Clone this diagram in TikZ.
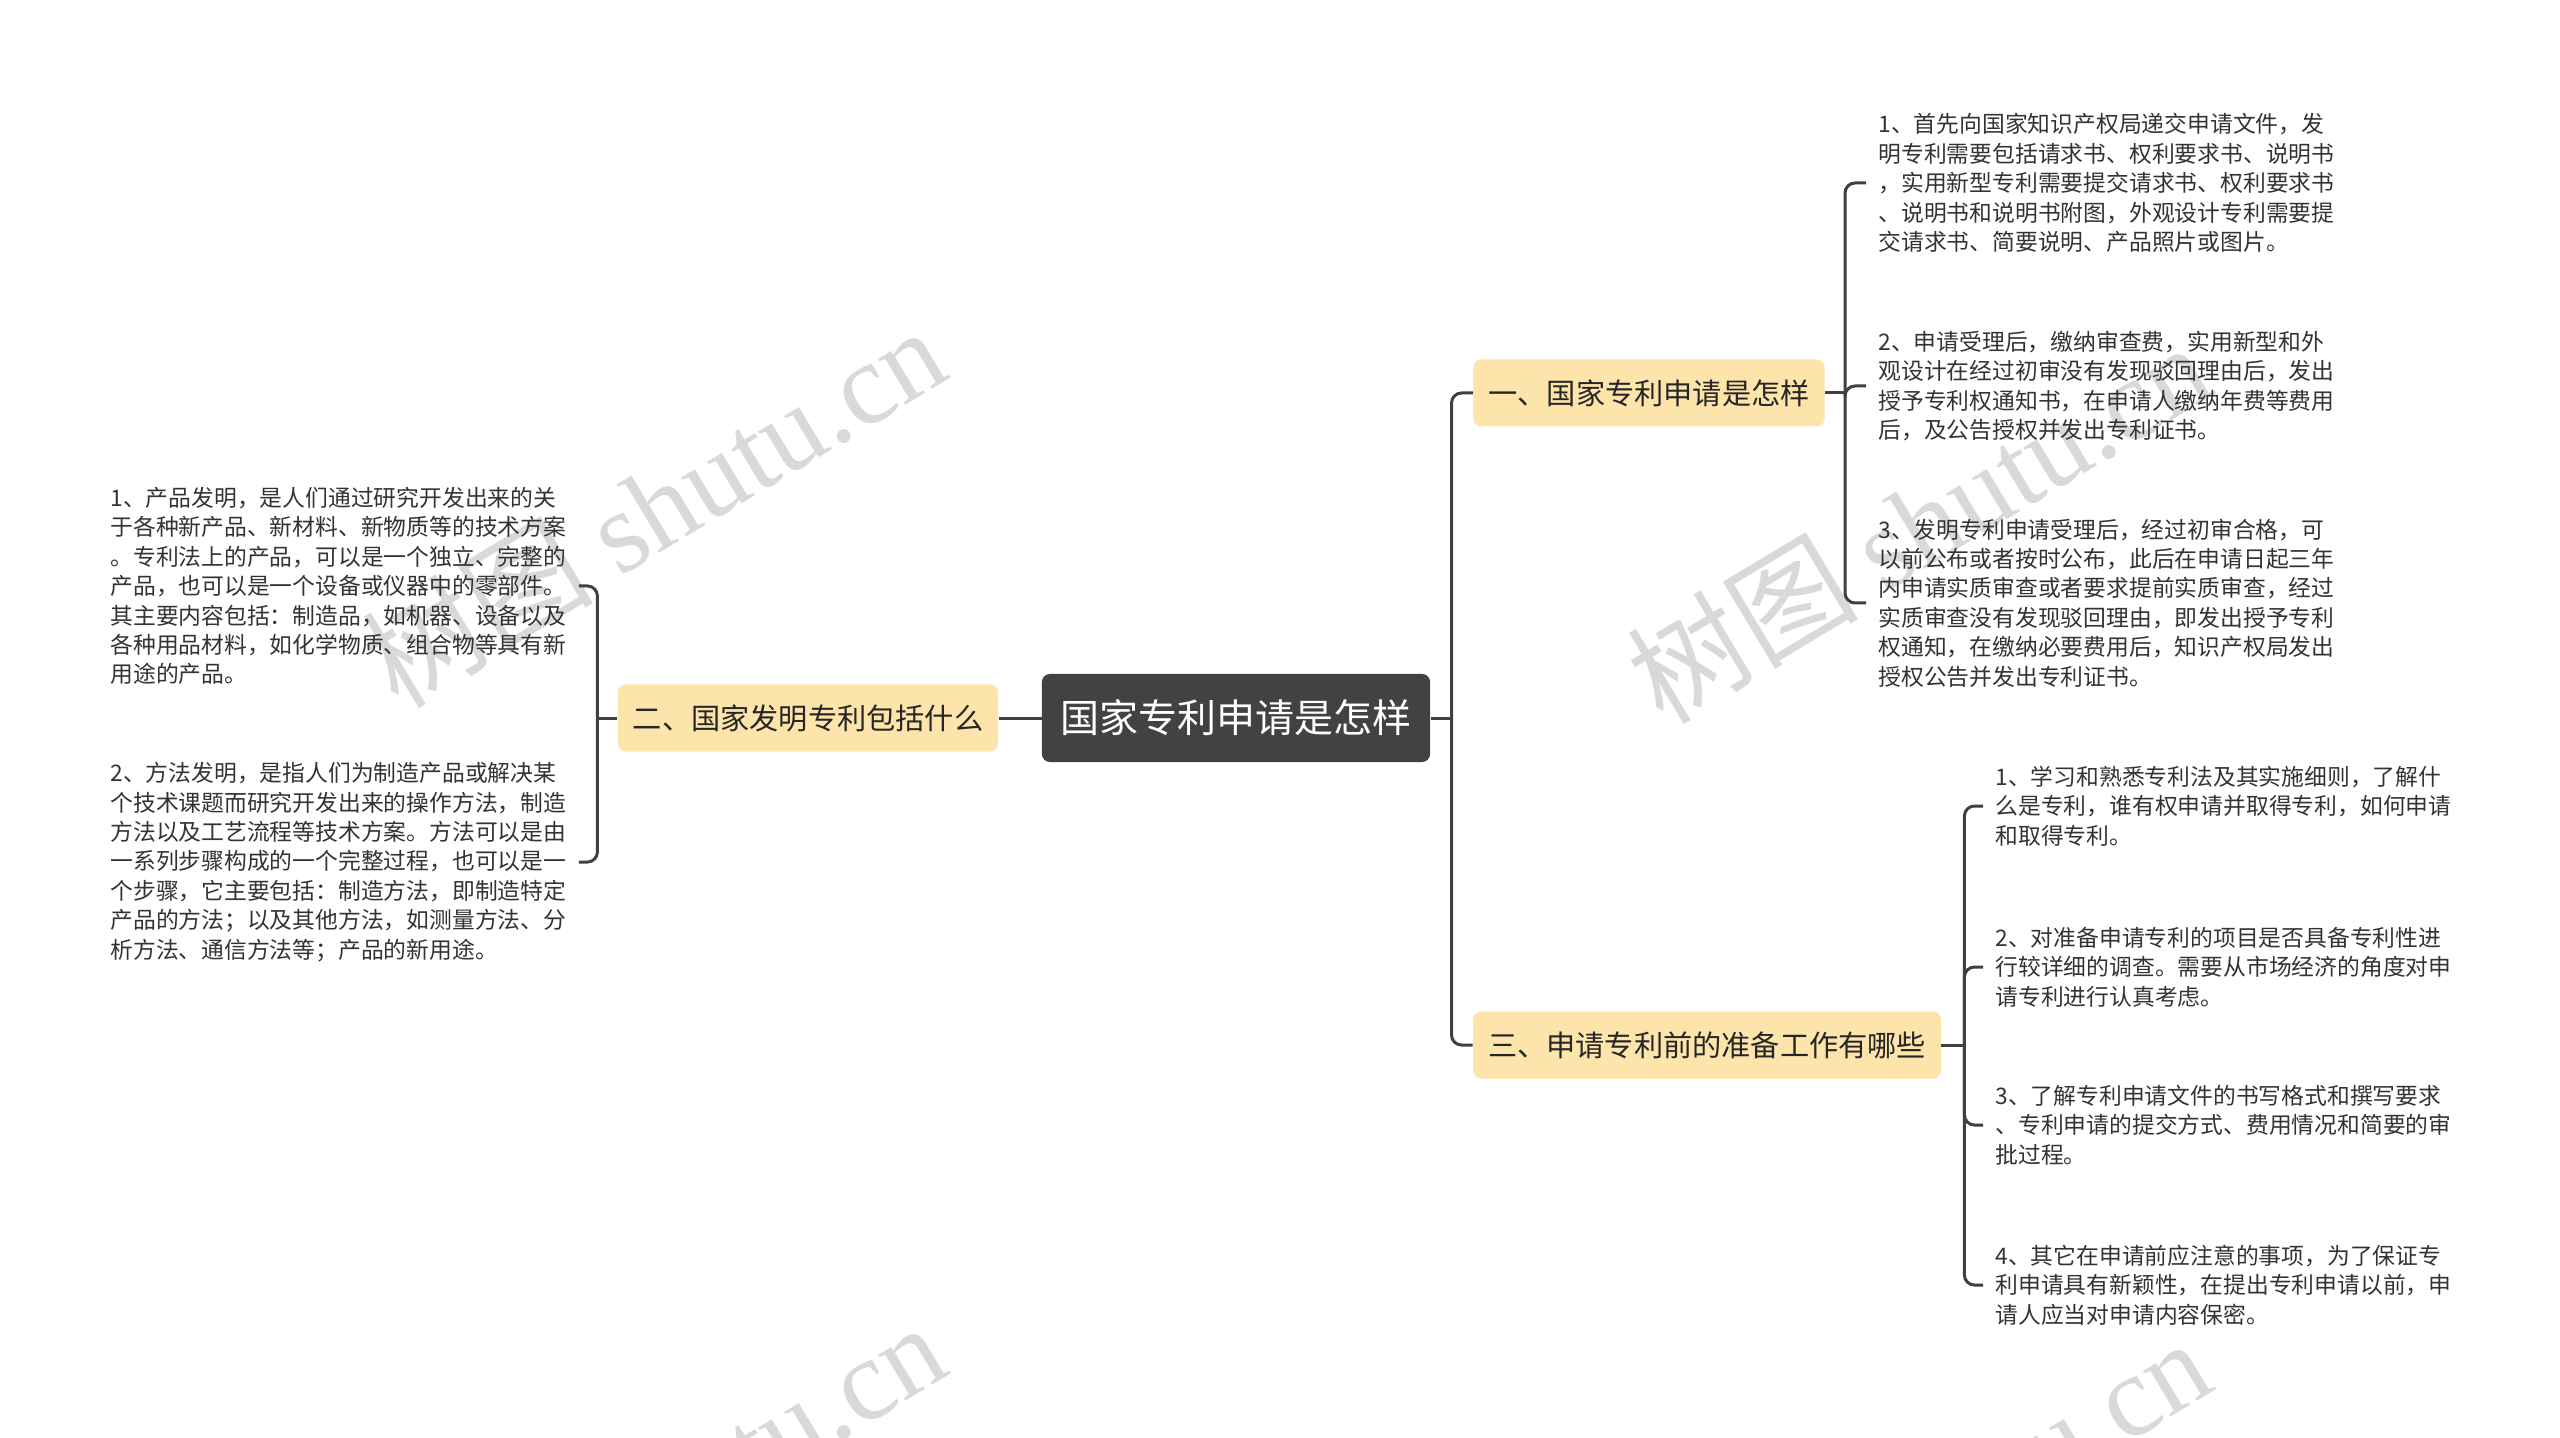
\documentclass[tikz,border=0pt]{standalone}
\usepackage{fontspec}
\setmainfont{Noto Sans CJK SC}
\newfontfamily\wmcjk{Noto Sans CJK SC}
\newfontfamily\wmlatin{Liberation Serif}
\usepackage{tikz}

\definecolor{rootgray}{HTML}{424242}
\definecolor{branchfill}{HTML}{FCE4AA}
\definecolor{linkgray}{HTML}{404040}
\definecolor{leaftext}{HTML}{333333}
\definecolor{wmgray}{HTML}{D9D9D9}

\tikzset{
  rootbox/.style={draw=none,fill=rootgray,rounded corners=4pt,text=white,
    inner xsep=9.3pt,minimum height=44pt,font=\fontsize{19.5}{22}\selectfont},
  branchbox/.style={draw=none,fill=branchfill,rounded corners=4pt,text=black!85,
    inner xsep=7.5pt,minimum height=33.5pt,font=\fontsize{14.6}{17}\selectfont},
  leaf/.style={anchor=west,align=left,inner xsep=6pt,inner ysep=0pt,text=leaftext,
    font=\fontsize{11.4}{14.7}\selectfont},
  link/.style={draw=linkgray,line width=1.5pt,rounded corners=5pt},
  wmark/.style={text=wmgray,rotate=31,inner sep=0pt}
}

\begin{document}
\begin{tikzpicture}[x=0.5pt,y=-0.5pt]
\useasboundingbox (0,0) rectangle (2560,1438);
\path[fill=white] (0,0) rectangle (2560,1438);
% objects at depth 0 (watermarks):
\node[wmark] (wm1) at (653,506) {\fontsize{58}{60}\wmcjk 树图 \wmlatin shutu.cn};
\node[wmark] (wm2) at (1918,522) {\fontsize{58}{60}\wmcjk 树图 \wmlatin shutu.cn};
\node[wmark] (wm3) at (653,1502) {\fontsize{58}{60}\wmcjk 树图 \wmlatin shutu.cn};
\node[wmark] (wm4) at (1918,1518) {\fontsize{58}{60}\wmcjk 树图 \wmlatin shutu.cn};
% objects at depth 50 (topics):
\node[rootbox] (root) at (1236,718) {国家专利申请是怎样};
\node[branchbox] (b1) at (1649,393) {一、国家专利申请是怎样};
\node[branchbox] (b2) at (808,718) {二、国家发明专利包括什么};
\node[branchbox] (b3) at (1707,1045) {三、申请专利前的准备工作有哪些};
% objects at depth 50 (details):
\node[leaf] (l1) at (98,586) {1、产品发明，是人们通过研究开发出来的关\\
于各种新产品、新材料、新物质等的技术方案\\
。专利法上的产品，可以是一个独立、完整的\\
产品，也可以是一个设备或仪器中的零部件。\\
其主要内容包括：制造品，如机器、设备以及\\
各种用品材料，如化学物质、组合物等具有新\\
用途的产品。};
\node[leaf] (l2) at (98,862) {2、方法发明，是指人们为制造产品或解决某\\
个技术课题而研究开发出来的操作方法，制造\\
方法以及工艺流程等技术方案。方法可以是由\\
一系列步骤构成的一个完整过程，也可以是一\\
个步骤，它主要包括：制造方法，即制造特定\\
产品的方法；以及其他方法，如测量方法、分\\
析方法、通信方法等；产品的新用途。};
\node[leaf] (r1) at (1866,183) {1、首先向国家知识产权局递交申请文件，发\\
明专利需要包括请求书、权利要求书、说明书\\
，实用新型专利需要提交请求书、权利要求书\\
、说明书和说明书附图，外观设计专利需要提\\
交请求书、简要说明、产品照片或图片。};
\node[leaf] (r2) at (1866,386) {2、申请受理后，缴纳审查费，实用新型和外\\
观设计在经过初审没有发现驳回理由后，发出\\
授予专利权通知书，在申请人缴纳年费等费用\\
后，及公告授权并发出专利证书。};
\node[leaf] (r3) at (1866,603) {3、发明专利申请受理后，经过初审合格，可\\
以前公布或者按时公布，此后在申请日起三年\\
内申请实质审查或者要求提前实质审查，经过\\
实质审查没有发现驳回理由，即发出授予专利\\
权通知，在缴纳必要费用后，知识产权局发出\\
授权公告并发出专利证书。};
\node[leaf] (s1) at (1983,806) {1、学习和熟悉专利法及其实施细则，了解什\\
么是专利，谁有权申请并取得专利，如何申请\\
和取得专利。};
\node[leaf] (s2) at (1983,967) {2、对准备申请专利的项目是否具备专利性进\\
行较详细的调查。需要从市场经济的角度对申\\
请专利进行认真考虑。};
\node[leaf] (s3) at (1983,1125) {3、了解专利申请文件的书写格式和撰写要求\\
、专利申请的提交方式、费用情况和简要的审\\
批过程。};
\node[leaf] (s4) at (1983,1285) {4、其它在申请前应注意的事项，为了保证专\\
利申请具有新颖性，在提出专利申请以前，申\\
请人应当对申请内容保密。};
% objects at depth 20 (connectors):
\draw[link] (root.east) -- ++(21,0) coordinate (rj);
\draw[link] (rj) |- (b1.west);
\draw[link] (rj) |- (b3.west);
\draw[link] (root.west) -- (b2.east);
\draw[link] (b2.west) -- ++(-20,0) coordinate (lj);
\draw[link] (lj) |- (l1.east);
\draw[link] (lj) |- (l2.east);
\draw[link] (b1.east) -- ++(20,0) coordinate (aj);
\draw[link] (aj) |- (r1.west);
\draw[link] (aj) |- (r2.west);
\draw[link] (aj) |- (r3.west);
\draw[link] (b3.east) -- ++(23,0) coordinate (cj);
\draw[link] (cj) |- (s1.west);
\draw[link] (cj) |- (s2.west);
\draw[link] (cj) |- (s3.west);
\draw[link] (cj) |- (s4.west);
\end{tikzpicture}
\end{document}
